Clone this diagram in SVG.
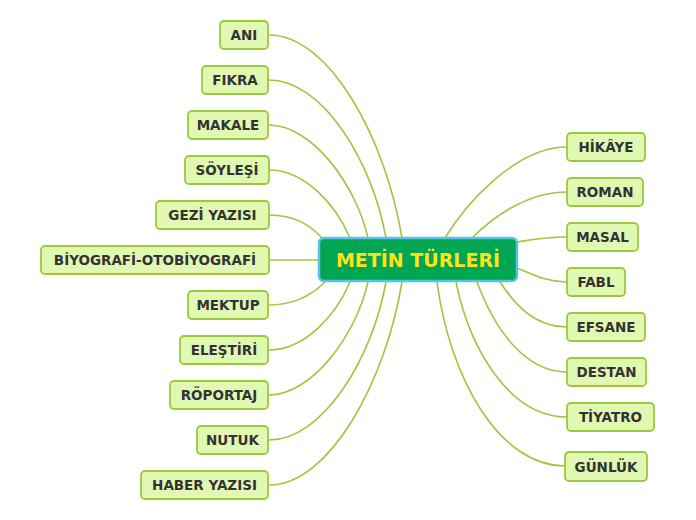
<svg xmlns="http://www.w3.org/2000/svg" width="696" height="520" viewBox="0 0 696 520">
<style>
.c{fill:none;stroke:#9dc73f;stroke-width:1.6}
.n rect{fill:#e1f8b2;stroke:#9bc93c;stroke-width:1.8}
.n text{font-family:"DejaVu Sans",Verdana,sans-serif;font-weight:bold;font-size:13.5px;fill:#333333;text-anchor:middle}
#center rect{fill:#00a651;stroke:#5bc2e7;stroke-width:2.5}
#center text{font-family:"DejaVu Sans",Verdana,sans-serif;font-weight:bold;font-size:19px;fill:#ffe21a;text-anchor:middle}
</style>
<rect width="696" height="520" fill="#ffffff"/>
<g id="connectors">
<path class="c" d="M269,35 C330,35 386,140 402,238"/>
<path class="c" d="M269,80 C322,80 372,160 386,238"/>
<path class="c" d="M269,125 C312,125 356,185 368,238"/>
<path class="c" d="M269,170 C305,170 336,205 350,238"/>
<path class="c" d="M269,215 C295,215 310,225 322,238"/>
<path class="c" d="M269,260 L319,260"/>
<path class="c" d="M269,305 C295,305 312,295 325,282"/>
<path class="c" d="M269,350 C305,350 336,315 350,282"/>
<path class="c" d="M269,395 C312,395 356,335 368,282"/>
<path class="c" d="M269,440 C322,440 372,360 386,282"/>
<path class="c" d="M269,485 C330,485 386,380 402,282"/>
<path class="c" d="M567,147 C515,147 465,205 445,238"/>
<path class="c" d="M567,192 C525,192 490,220 472,238"/>
<path class="c" d="M567,237 C545,237 530,240 517,242"/>
<path class="c" d="M567,282 C545,282 530,273 517,268"/>
<path class="c" d="M567,327 C535,327 515,305 500,282"/>
<path class="c" d="M567,372 C525,372 495,330 477,282"/>
<path class="c" d="M567,417 C510,417 470,350 456,282"/>
<path class="c" d="M565,466 C500,466 450,380 437,282"/>
</g>
<g id="center"><rect x="319" y="238" width="198" height="43" rx="5"/><text x="418" y="267">METİN TÜRLERİ</text></g>
<g id="ani" class="n"><rect x="220" y="21" width="48" height="28" rx="4"/><text x="244" y="40">ANI</text></g>
<g id="fikra" class="n"><rect x="202" y="66" width="66" height="28" rx="4"/><text x="235" y="85">FIKRA</text></g>
<g id="makale" class="n"><rect x="188" y="111" width="80" height="28" rx="4"/><text x="228" y="130">MAKALE</text></g>
<g id="soylesi" class="n"><rect x="185" y="156" width="84" height="28" rx="4"/><text x="227" y="175">SÖYLEŞİ</text></g>
<g id="gezi" class="n"><rect x="156" y="201" width="113" height="28" rx="4"/><text x="212.5" y="220">GEZİ YAZISI</text></g>
<g id="biyografi" class="n"><rect x="41" y="246" width="228" height="28" rx="4"/><text x="155" y="265">BİYOGRAFİ-OTOBİYOGRAFİ</text></g>
<g id="mektup" class="n"><rect x="188" y="291" width="80" height="28" rx="4"/><text x="228" y="310">MEKTUP</text></g>
<g id="elestiri" class="n"><rect x="180" y="336" width="88" height="28" rx="4"/><text x="224" y="355">ELEŞTİRİ</text></g>
<g id="roportaj" class="n"><rect x="170" y="381" width="98" height="28" rx="4"/><text x="219" y="400">RÖPORTAJ</text></g>
<g id="nutuk" class="n"><rect x="197" y="426" width="71" height="28" rx="4"/><text x="232.5" y="445">NUTUK</text></g>
<g id="haber" class="n"><rect x="141" y="471" width="127" height="28" rx="4"/><text x="204.5" y="490">HABER YAZISI</text></g>
<g id="hikaye" class="n"><rect x="567" y="133" width="78" height="28" rx="4"/><text x="606" y="152">HİKÂYE</text></g>
<g id="roman" class="n"><rect x="567" y="178" width="76" height="28" rx="4"/><text x="605" y="197">ROMAN</text></g>
<g id="masal" class="n"><rect x="567" y="223" width="71" height="28" rx="4"/><text x="602.5" y="242">MASAL</text></g>
<g id="fabl" class="n"><rect x="567" y="268" width="58" height="28" rx="4"/><text x="596" y="287">FABL</text></g>
<g id="efsane" class="n"><rect x="567" y="313" width="78" height="28" rx="4"/><text x="606" y="332">EFSANE</text></g>
<g id="destan" class="n"><rect x="567" y="358" width="79" height="28" rx="4"/><text x="606.5" y="377">DESTAN</text></g>
<g id="tiyatro" class="n"><rect x="567" y="403" width="87" height="28" rx="4"/><text x="610.5" y="422">TİYATRO</text></g>
<g id="gunluk" class="n"><rect x="565" y="452" width="82" height="29" rx="4"/><text x="606" y="471.5">GÜNLÜK</text></g>
</svg>
